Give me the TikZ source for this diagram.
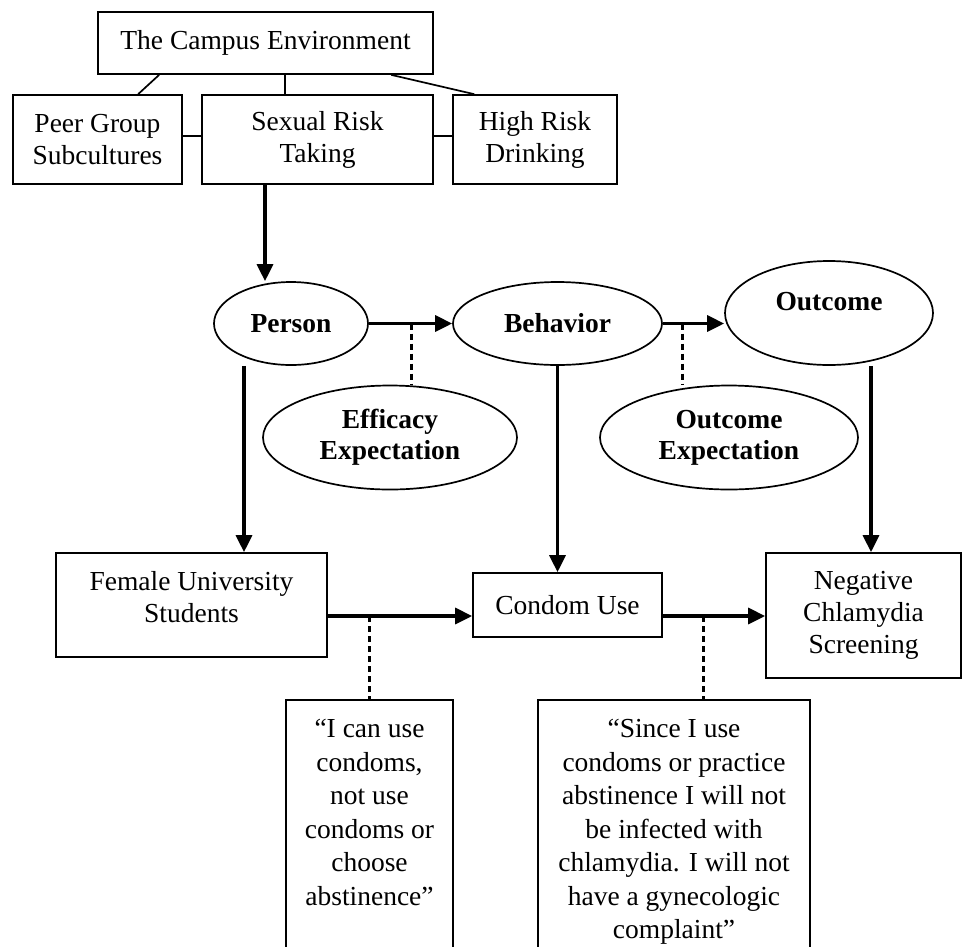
\documentclass[tikz,border=0pt]{standalone}
\usepackage{fontspec}
\setmainfont{Liberation Serif}
\usetikzlibrary{arrows.meta,calc,shapes.geometric}
\begin{document}
\begin{tikzpicture}[x=1pt,y=-1pt,
  every node/.style={font=\fontsize{27.5}{32}\selectfont, align=center, inner sep=0pt},
  box/.style={draw, line width=1.7pt, rectangle},
  ell/.style={draw, line width=1.7pt, ellipse, font=\fontsize{27.5}{31}\selectfont\bfseries},
  bold/.style={font=\fontsize{27.5}{31}\selectfont\bfseries},
  quote/.style={anchor=north, font=\fontsize{27.5}{33.5}\selectfont},
  ln/.style={line width=1.7pt},
  arr/.style={line width=3.2pt, -{Triangle[length=17pt,width=16pt]}},
  dline/.style={line width=3pt, dash pattern=on 6pt off 4pt},
]
\useasboundingbox[fill=white] (0,0) rectangle (963,946);

% top row
\node[box, minimum width=335pt, minimum height=62pt] (campus) at (265.5,43) {The Campus Environment};
\node[box, minimum width=169pt, minimum height=89pt] (peer) at (97.5,139.5) {Peer Group\\Subcultures};
\node[box, minimum width=231pt, minimum height=89pt] (sexual) at (317.5,139.5) {Sexual Risk\\Taking};
\node[box, minimum width=164pt, minimum height=89pt] (high) at (535,139.5) {High Risk\\Drinking};

% ellipses
\node[ell, minimum width=154pt, minimum height=83pt] (person) at (291,323.5) {Person};
\node[ell, minimum width=209pt, minimum height=83pt] (behavior) at (557.5,323.5) {Behavior};
\node[ell, minimum width=208pt, minimum height=104pt] (outcome) at (829,313) {};
\node[bold] (outcomelbl) at (829,302) {Outcome};
\node[ell, minimum width=254pt, minimum height=104pt] (efficacy) at (390,437.5) {Efficacy\\Expectation};
\node[ell, minimum width=258pt, minimum height=104pt] (outexp) at (729,437.5) {Outcome\\Expectation};

% lower boxes
\node[box, minimum width=271pt, minimum height=104pt] (female) at (191.5,605) {};
\node (femalelbl) at (191.5,597) {Female University\\Students};
\node[box, minimum width=189pt, minimum height=64pt] (condom) at (567.5,605) {Condom Use};
\node[box, minimum width=195pt, minimum height=125pt] (negative) at (863.5,615.5) {Negative\\Chlamydia\\Screening};

% quote boxes (run off the bottom edge)
\node[box, minimum width=167pt, minimum height=330pt, anchor=north] (quote1) at (369.5,699) {};
\node[quote] (quote1txt) at (369.5,719) {``I can use\\condoms,\\not use\\condoms or\\choose\\abstinence''};
\node[box, minimum width=272pt, minimum height=330pt, anchor=north] (quote2) at (674,699) {};
\node[quote] (quote2txt) at (674,719) {``Since I use\\condoms or practice\\abstinence I will not\\be infected with\\chlamydia. I will not\\have a gynecologic\\complaint''};

% helper coordinates
\coordinate (sp) at (265,0);
\coordinate (pf) at (244,0);
\coordinate (on) at (871,0);
\coordinate (fc) at (0,616);
\coordinate (e1) at (411,323.5);
\coordinate (e2) at (682,323.5);
\coordinate (e3) at (369,616);
\coordinate (e4) at (703,616);

% top connectors
\draw[ln] ($(campus.south west)+(62,0)$) -- ($(peer.north west)+(126,0)$);
\draw[ln] ($(campus.south west)+(188,0)$) -- ($(sexual.north west)+(84,0)$);
\draw[ln] ($(campus.south west)+(294,0)$) -- ($(high.north west)+(22,0)$);
\draw[ln] ($(peer.east)+(0,-3.5)$) -- ($(sexual.west)+(0,-3.5)$);
\draw[ln] ($(sexual.east)+(0,-3.5)$) -- ($(high.west)+(0,-3.5)$);

% arrows
\draw[arr] (sexual.south -| sp) -- (sp |- person.north);
\draw[arr] (person.east) -- (behavior.west);
\draw[arr] (behavior.east) -- (behavior.east -| outcome.west);
\draw[arr] (person.south -| pf) -- (pf |- female.north);
\draw[arr] (behavior.south) -- (behavior.south |- condom.north);
\draw[arr] (outcome.south -| on) -- (on |- negative.north);
\draw[arr] (female.east |- fc) -- (condom.west |- fc);
\draw[arr] (condom.east |- fc) -- (negative.west |- fc);

% dashed links
\draw[dline] (e1) -- (e1 |- efficacy.north);
\draw[dline] (e2) -- (e2 |- outexp.north);
\draw[dline] (e3) -- (e3 |- quote1.north);
\draw[dline] (e4) -- (e4 |- quote2.north);
\end{tikzpicture}
\end{document}
